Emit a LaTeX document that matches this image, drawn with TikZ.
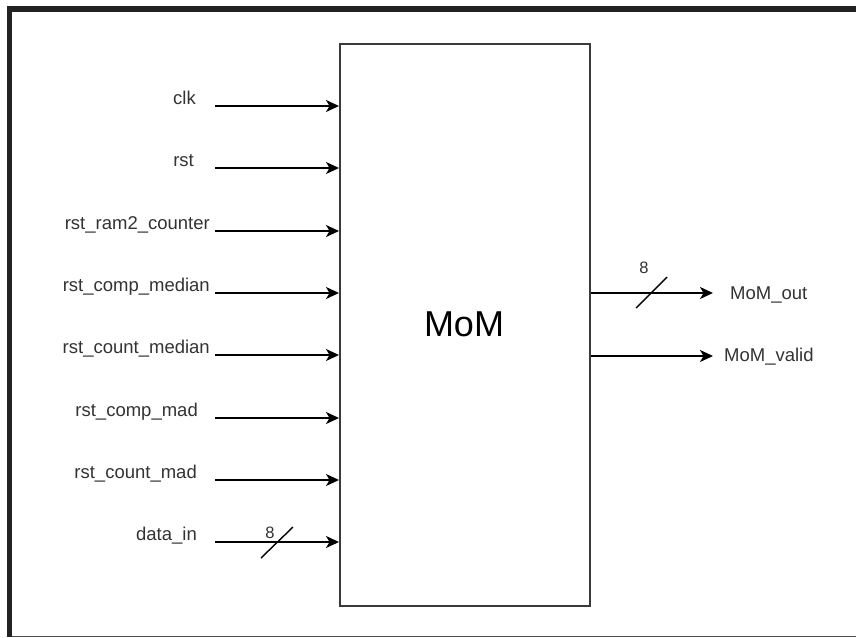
\documentclass[tikz,border=0pt]{standalone}
\usepackage{fontspec}
\setmainfont{Liberation Sans}
\usetikzlibrary{arrows.meta}
\definecolor{txt}{HTML}{333333}
\definecolor{frame}{HTML}{222222}
\definecolor{boxc}{HTML}{3A3A3A}
\tikzset{
  sig/.style={line width=1.5pt, black, -{Stealth[length=13pt,width=12pt,inset=3.5pt]}},
  lbl/.style={inner sep=0pt, text=txt, font=\fontsize{18.5}{20}\selectfont},
  bus/.style={line width=1.4pt, black},
  buslbl/.style={inner sep=0pt, text=txt, font=\fontsize{16.5}{18}\selectfont},
}
\begin{document}
\begin{tikzpicture}[x=1pt,y=-1pt]
\useasboundingbox (0,0) rectangle (856,637);
\fill[white] (0,0) rectangle (856,637);
% outer frame
\draw[frame, line width=5.5pt] (9.5,637) -- (9.5,9) -- (856,9);
\draw[black!70, line width=1pt] (12,636) -- (856,636);
% block
\node[draw=boxc, line width=1.5pt, minimum width=250pt, minimum height=562pt, inner sep=0pt, anchor=north west] (mom) at (339,43) {};
\node[inner sep=0pt, font=\fontsize{36}{40}\selectfont, anchor=base] (momlbl) at (464,336) {MoM};
% inputs
\foreach \n/\y/\xr/\t in {1/106/196/clk, 2/168/194/rst, 3/231/210/rst\_ram2\_counter, 4/293/210/rst\_comp\_median, 5/355/210/rst\_count\_median, 6/418/198/rst\_comp\_mad, 7/480/197/rst\_count\_mad, 8/542/197/data\_in}{
  \coordinate (s\n) at (215,\y);
  \node[lbl, anchor=base east] (l\n) at (\xr,\y-2) {\t};
  \draw[sig] (s\n) -- (s\n -| mom.west);
}
% data_in bus mark
\coordinate (b1a) at (261,558);
\coordinate (b1b) at (293,527);
\draw[bus] (b1a) -- (b1b);
\node[buslbl] (w1) at (270,533) {8};
% outputs
\coordinate (o1) at (713,293);
\coordinate (o2) at (713,356);
\draw[sig] (o1 -| mom.east) -- (o1);
\draw[sig] (o2 -| mom.east) -- (o2);
\node[lbl, anchor=base west] (ol1) at (730,299) {MoM\_out};
\node[lbl, anchor=base west] (ol2) at (724,361) {MoM\_valid};
\coordinate (b2a) at (636,308);
\coordinate (b2b) at (667,277);
\draw[bus] (b2a) -- (b2b);
\node[buslbl] (w2) at (644,267.5) {8};
\end{tikzpicture}
\end{document}
